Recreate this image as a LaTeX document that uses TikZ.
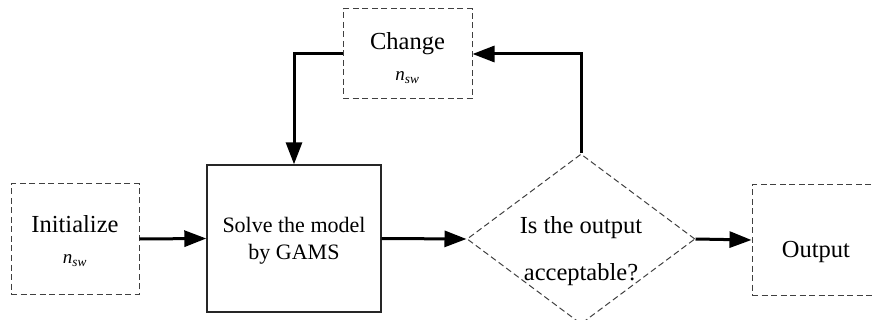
\documentclass[tikz,border=0pt]{standalone}
\usepackage{fontspec}
\setmainfont{Liberation Serif}
\usetikzlibrary{arrows.meta,shapes.geometric}
\tikzset{
  dbox/.style={draw=black!75, dashed, dash pattern=on 6pt off 3.5pt, line width=1pt, inner sep=0pt},
  sbox/.style={draw=black!85, line width=1.4pt, inner sep=0pt},
  flow/.style={line width=3pt, -{Triangle[length=22pt,width=16pt]}},
  txt/.style={inner sep=0pt, anchor=base, font=\fontsize{24.5}{28}\selectfont},
  stxt/.style={inner sep=0pt, anchor=base, font=\fontsize{22}{26}\selectfont},
  ntxt/.style={inner sep=0pt, anchor=base, font=\fontsize{19}{22}\selectfont}
}
\newcommand{\nsw}{\textit{n}\textsubscript{\textit{sw}}}
\begin{document}
\begin{tikzpicture}[x=1pt,y=-1pt]
\useasboundingbox (0,0) rectangle (872,320);
\clip (0,0) rectangle (872,320);
% boxes
\node[dbox, minimum width=128pt, minimum height=110pt] (init) at (75,239) {};
\node[sbox, minimum width=174pt, minimum height=147pt] (solve) at (294,238.5) {};
\node[dbox, minimum width=129pt, minimum height=90pt] (change) at (407.5,54) {};
\node[dbox, shape=diamond, minimum width=228pt, minimum height=170pt] (dec) at (581,239) {};
\node[dbox, minimum width=128pt, minimum height=110pt] (out) at (816,240) {};
% texts
\node[txt] (t1) at (75,233) {Initialize};
\node[ntxt] (t2) at (75,264) {\nsw};
\node[txt] (t3) at (407.5,50) {Change};
\node[ntxt] (t4) at (407.5,81) {\nsw};
\node[stxt] (t5) at (294,233) {Solve the model};
\node[stxt] (t6) at (294,259) {by GAMS};
\node[txt] (t7) at (581,234) {Is the output};
\node[txt] (t8) at (581,280) {acceptable?};
\node[txt] (t9) at (816,258) {Output};
% connectors
\draw[flow] (init.east) -- (solve.west);
\draw[flow] (solve.east) -- (dec.west);
\draw[flow] (dec.east) -- (out.west);
\draw[flow] (dec.north) |- (change.east);
\draw[flow] (change.west) -| (solve.north);
\end{tikzpicture}
\end{document}
